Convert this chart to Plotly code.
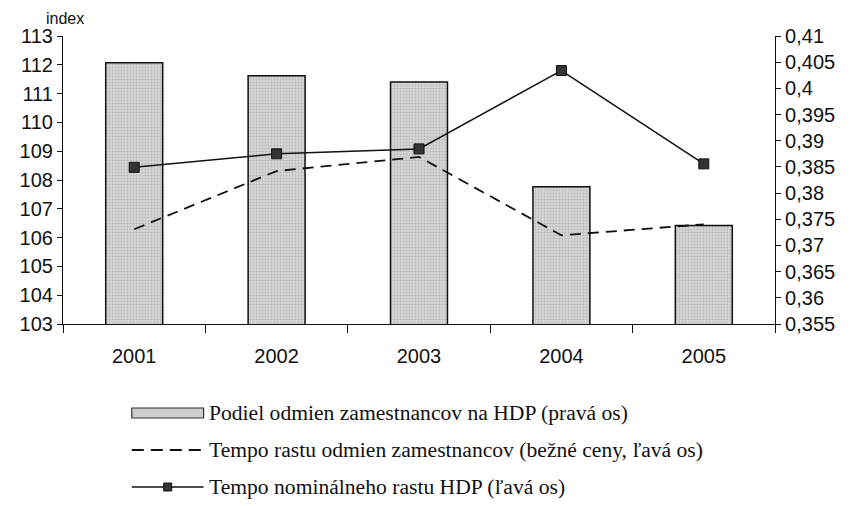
import plotly.graph_objects as go

years = ["2001", "2002", "2003", "2004", "2005"]
podiel = [0.4049, 0.4024, 0.4012, 0.3812, 0.3738]          # right axis (bars)
tempo_odmien = [106.29, 108.31, 108.8, 106.08, 106.46]      # left axis dashed
tempo_hdp = [108.44, 108.91, 109.08, 111.8, 108.56]         # left axis solid w/ markers

left_ticks = [103, 104, 105, 106, 107, 108, 109, 110, 111, 112, 113]
right_tickvals = [0.355, 0.36, 0.365, 0.37, 0.375, 0.38, 0.385, 0.39, 0.395, 0.4, 0.405, 0.41]
right_ticktext = ["0,355", "0,36", "0,365", "0,37", "0,375", "0,38", "0,385", "0,39", "0,395", "0,4", "0,405", "0,41"]

legend_labels = ["Podiel odmien zamestnancov na HDP (pravá os)",
                 "Tempo rastu odmien zamestnancov (bežné ceny, ľavá os)",
                 "Tempo nominálneho rastu HDP (ľavá os)"]

axis_font = dict(family="Liberation Sans", size=20, color="#111")
legend_font = dict(family="Liberation Serif", size=21.6, color="#111")

# target plot area in page pixels; the page body adds an 8px offset
OFF = 8
L, R, T, B = 61, 775, 36, 324
W, H = 850, 506
def px(x): return (x - L) / (R - L)
def py(y): return (B - y) / (B - T)

fig = go.Figure()
fig.add_trace(go.Bar(
    x=years, y=podiel, yaxis="y", width=0.4, name=legend_labels[0],
    marker=dict(color="#cdcdcd", line=dict(color="#111", width=1.5),
                pattern=dict(shape=".", fgcolor="#9a9a9a", bgcolor="#d6d6d6", size=3, solidity=0.3)),
))
fig.add_trace(go.Scatter(
    x=years, y=tempo_odmien, yaxis="y2", mode="lines", name=legend_labels[1],
    line=dict(color="#111", width=1.8, dash="11px,7px"),
))
fig.add_trace(go.Scatter(
    x=years, y=tempo_hdp, yaxis="y2", mode="lines+markers", name=legend_labels[2],
    line=dict(color="#111", width=1.5),
    marker=dict(symbol="square", size=10, color="#333", line=dict(color="#111", width=1)),
))

shapes = [
    dict(type="rect", xref="paper", yref="paper", x0=px(130), x1=px(202), y0=py(418), y1=py(408),
         fillcolor="#cdcdcd", line=dict(color="#333", width=1.2)),
    dict(type="line", xref="paper", yref="paper", x0=px(130), x1=px(202), y0=py(450), y1=py(450),
         line=dict(color="#111", width=1.8, dash="12px,7px")),
    dict(type="line", xref="paper", yref="paper", x0=px(130), x1=px(202), y0=py(487), y1=py(487),
         line=dict(color="#111", width=1.5)),
    dict(type="rect", xref="paper", yref="paper", x0=px(162), x1=px(170), y0=py(491), y1=py(483),
         fillcolor="#333", line=dict(color="#111", width=1)),
]
annotations = [dict(text="index", xref="paper", yref="paper", x=px(42), y=py(18),
                    xanchor="left", yanchor="middle", showarrow=False,
                    font=dict(family="Liberation Sans", size=16, color="#111"))]
for lbl, yy in zip(legend_labels, [413, 450, 487]):
    annotations.append(dict(text=lbl, xref="paper", yref="paper", x=px(205), y=py(yy),
                            xanchor="left", yanchor="middle", showarrow=False, font=legend_font))

fig.update_layout(
    width=W, height=H,
    margin=dict(l=L - OFF, r=W - (R - OFF), t=T - OFF, b=H - (B - OFF)),
    paper_bgcolor="white", plot_bgcolor="white",
    showlegend=False,
    xaxis=dict(type="category", showline=True, linecolor="#111", linewidth=1.2,
               ticks="outside", tickson="boundaries", ticklen=8, tickcolor="#111",
               ticklabelstandoff=14,
               tickfont=axis_font, showgrid=False, zeroline=False),
    yaxis=dict(side="right", range=[0.355, 0.41], tickvals=right_tickvals, ticktext=right_ticktext,
               showline=True, linecolor="#111", linewidth=1.2, ticks="outside", ticklen=5,
               tickcolor="#111", tickfont=axis_font, showgrid=False, zeroline=False),
    yaxis2=dict(side="left", overlaying="y", range=[103, 113], tickvals=left_ticks,
                showline=True, linecolor="#111", linewidth=1.2, ticks="outside", ticklen=5,
                tickcolor="#111", tickfont=axis_font, showgrid=False, zeroline=False),
    shapes=shapes,
    annotations=annotations,
)

fig.write_html("out.html")
